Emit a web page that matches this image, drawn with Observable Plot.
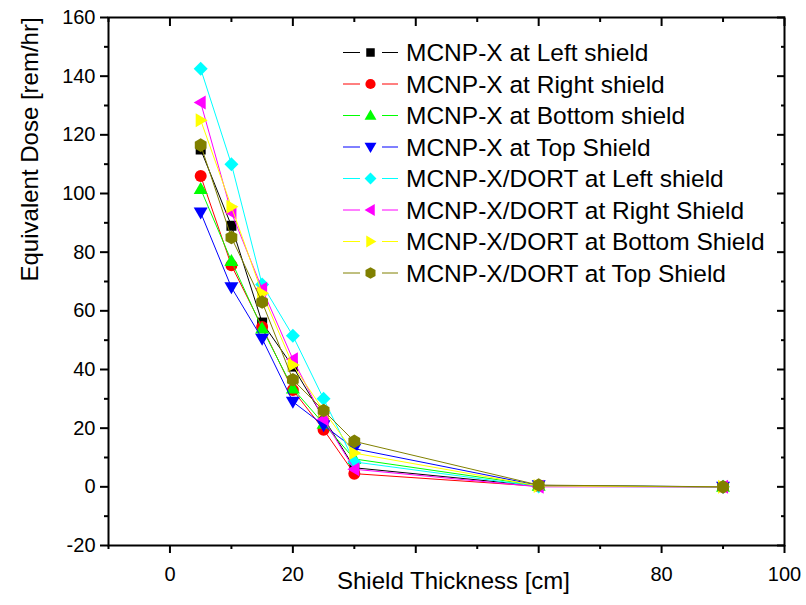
<!DOCTYPE html>
<html>
<head>
<meta charset="utf-8">
<script src="https://cdn.jsdelivr.net/npm/d3@7"></script>
<script src="https://cdn.jsdelivr.net/npm/@observablehq/plot@0.6"></script>
<style>
  body { margin: 0; background: #fff; }
  #chart { width: 806px; height: 605px; }
</style>
</head>
<body>
<div id="chart"></div>
<script>
// ---- data ----
const thickness = [5, 10, 15, 20, 25, 30, 60, 90];
const seriesNames = [
  "MCNP-X at Left shield",
  "MCNP-X at Right shield",
  "MCNP-X at Bottom shield",
  "MCNP-X at Top Shield",
  "MCNP-X/DORT at Left shield",
  "MCNP-X/DORT at Right Shield",
  "MCNP-X/DORT at Bottom Shield",
  "MCNP-X/DORT at Top Shield"
];
const mcnpLeft    = [115, 89, 56, 41, 23.5, 6.5, 0.3, 0];
const mcnpRight   = [106, 75.5, 54.5, 33, 19.5, 4.5, 0.2, 0];
const mcnpBottom  = [101.5, 77, 54, 33.5, 21.5, 9.5, 0.4, 0];
const mcnpTop     = [93.5, 68, 50.5, 29, 21, 13, 0.5, 0];
const dortLeft    = [142.5, 110, 69, 51.5, 30, 8.5, 0.1, 0];
const dortRight   = [131, 93.5, 67.5, 43.5, 23, 6, 0, 0];
const dortBottom  = [125, 95.5, 66, 41.5, 26, 11.5, 0.3, 0];
const dortTop     = [116.5, 85, 63, 36.5, 26, 15.5, 0.6, 0];
const seriesValues = [mcnpLeft, mcnpRight, mcnpBottom, mcnpTop, dortLeft, dortRight, dortBottom, dortTop];

const xMajorTicks = [0, 20, 40, 60, 80, 100];
const xMinorTicks = [-10, 10, 30, 50, 70, 90];
const yMajorTicks = [-20, 0, 20, 40, 60, 80, 100, 120, 140, 160];
const yMinorTicks = [-10, 10, 30, 50, 70, 90, 110, 130, 150];
const xTitle = "Shield Thickness [cm]";
const yTitle = "Equivalent Dose [rem/hr]";

// ---- styles ----
const colors = ["#000000", "#ff0000", "#00ff00", "#0000ff", "#00ffff", "#ff00ff", "#ffff00", "#808000"];

function polySymbol(pts) {
  return {
    draw(ctx, size) {
      const k = Math.sqrt(size / Math.PI) / 7;
      ctx.moveTo(pts[0][0] * k, pts[0][1] * k);
      for (let i = 1; i < pts.length; i++) ctx.lineTo(pts[i][0] * k, pts[i][1] * k);
      ctx.closePath();
    }
  };
}
const symSquare = polySymbol([[-5, -5], [5, -5], [5, 5], [-5, 5]]);
const symCircle = {
  draw(ctx, size) {
    const r = 6 * Math.sqrt(size / Math.PI) / 7;
    ctx.moveTo(r, 0);
    ctx.arc(0, 0, r, 0, 2 * Math.PI);
    ctx.closePath();
  }
};
const symTriUp = polySymbol([[0, -7], [7, 5], [-7, 5]]);
const symTriDown = polySymbol([[0, 7], [7, -5], [-7, -5]]);
const symDiamond = polySymbol([[0, -7], [7, 0], [0, 7], [-7, 0]]);
const symTriLeft = polySymbol([[-7, 0], [5, -7], [5, 7]]);
const symTriRight = polySymbol([[7, 0], [-5, -7], [-5, 7]]);
const symHex = polySymbol(d3.range(6).map(i => {
  const a = (-90 + 60 * i) * Math.PI / 180;
  return [6.8 * Math.cos(a), 6.8 * Math.sin(a)];
}));
const symbols = [symSquare, symCircle, symTriUp, symTriDown, symDiamond, symTriLeft, symTriRight, symHex];

// ---- table ----
const rows = [];
seriesNames.forEach((name, i) => {
  thickness.forEach((t, j) => rows.push({series: name, idx: i, x: t, y: seriesValues[i][j]}));
});

const seriesMarks = [];
seriesNames.forEach((name, i) => {
  const data = rows.filter(d => d.idx === i);
  seriesMarks.push(Plot.line(data, {x: "x", y: "y", stroke: colors[i], strokeWidth: 1}));
  seriesMarks.push(Plot.dot(data, {x: "x", y: "y", fill: colors[i], stroke: "none", symbol: symbols[i], r: 7}));
});

const fontFamily = "'Liberation Sans', Arial, Helvetica, sans-serif";
const plain = d => String(d);

const chart = Plot.plot({
  width: 806,
  height: 605,
  marginLeft: 108,
  marginRight: 22,
  marginTop: 17,
  marginBottom: 60,
  style: {fontFamily, background: "#fff", color: "#000", overflow: "visible"},
  x: {domain: [-10, 100], label: null},
  y: {domain: [-20, 160], label: null},
  marks: [
    ...seriesMarks,
    Plot.frame({stroke: "#000", strokeWidth: 2}),
    // bottom axis
    Plot.axisX({anchor: "bottom", ticks: xMajorTicks, tickSize: 8, tickPadding: 13, fontSize: 20, strokeWidth: 2,
      tickFormat: d => (d === 40 || d === 60) ? "" : plain(d), label: null}),
    Plot.axisX({anchor: "bottom", ticks: xMinorTicks, tickSize: 4, strokeWidth: 2, tickFormat: () => "", label: null}),
    // top axis (inward ticks)
    Plot.axisX({anchor: "top", ticks: xMajorTicks, tickSize: 8, dy: 8, strokeWidth: 2, tickFormat: () => "", label: null}),
    Plot.axisX({anchor: "top", ticks: xMinorTicks, tickSize: 4, dy: 4, strokeWidth: 2, tickFormat: () => "", label: null}),
    // left axis
    Plot.axisY({anchor: "left", ticks: yMajorTicks, tickSize: 8, tickPadding: 5, fontSize: 20, strokeWidth: 2,
      tickFormat: plain, label: null}),
    Plot.axisY({anchor: "left", ticks: yMinorTicks, tickSize: 4, strokeWidth: 2, tickFormat: () => "", label: null}),
    // right axis (inward ticks)
    Plot.axisY({anchor: "right", ticks: yMajorTicks, tickSize: 8, dx: -8, strokeWidth: 2, tickFormat: () => "", label: null}),
    Plot.axisY({anchor: "right", ticks: yMinorTicks, tickSize: 4, dx: -4, strokeWidth: 2, tickFormat: () => "", label: null}),
    // titles
    Plot.text([yTitle], {text: d => d, frameAnchor: "left", rotate: -90, dx: -78, fontSize: 24, fill: "#000"}),
    Plot.text([xTitle], {text: d => d, frameAnchor: "bottom", dy: 43, dx: 7, fontSize: 24, fill: "#000"})
  ]
});

document.getElementById("chart").appendChild(chart);

// ---- legend (inside the plot area, top right) ----
const svg = d3.select(chart);
const legend = svg.append("g").attr("class", "legend")
  .style("font-family", fontFamily).attr("text-anchor", "start");
const legX0 = 343, legX1 = 360, legX2 = 382, legX3 = 398, legMarker = 370.5, legText = 406;
const legY0 = 52.5, legStep = 31.5;
const legSize = Math.PI * (7 * 0.85) * (7 * 0.85);
seriesNames.forEach((name, i) => {
  const y = legY0 + i * legStep;
  const g = legend.append("g");
  g.append("line").attr("x1", legX0).attr("x2", legX1).attr("y1", y).attr("y2", y)
    .attr("stroke", colors[i]).attr("stroke-width", 1);
  g.append("line").attr("x1", legX2).attr("x2", legX3).attr("y1", y).attr("y2", y)
    .attr("stroke", colors[i]).attr("stroke-width", 1);
  g.append("path").attr("d", d3.symbol().type(symbols[i]).size(legSize)())
    .attr("transform", `translate(${legMarker},${y})`).attr("fill", colors[i]);
  g.append("text").attr("x", legText).attr("y", y).attr("dy", "0.35em")
    .attr("text-anchor", "start").attr("font-size", 24.5).attr("fill", "#000").text(name);
});
</script>
</body>
</html>
